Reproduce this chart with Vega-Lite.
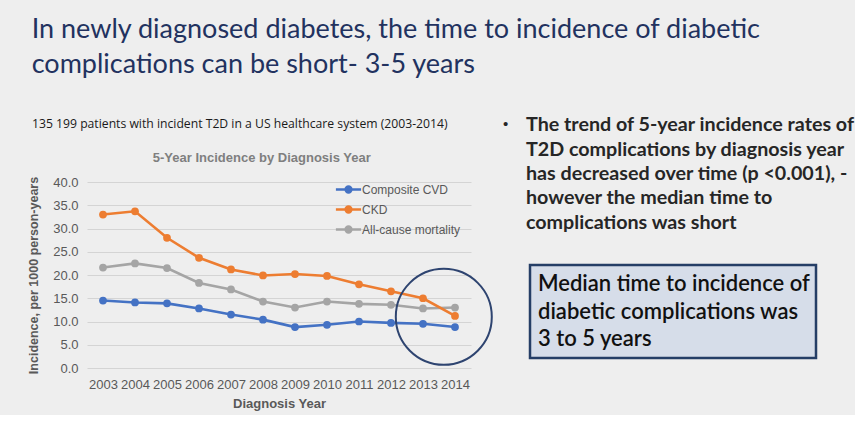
{
  "$schema": "https://vega.github.io/schema/vega-lite/v6.json",
  "background": "#EEEEEE",
  "padding": {"left": 27, "top": 16, "right": 0, "bottom": 5},
  "config": {
    "view": {"stroke": null},
    "font": "Liberation Sans"
  },
  "title": {
    "text": ["In newly diagnosed diabetes, the time to incidence of diabetic", "complications can be short- 3-5 years"],
    "anchor": "start",
    "frame": "bounds",
    "font": "Lato",
    "fontSize": 27,
    "fontWeight": "normal",
    "color": "#22325F",
    "lineHeight": 35,
    "dx": 4,
    "offset": 31
  },
  "datasets": {
    "incidence": [
      {"year": 2003, "series": "Composite CVD", "value": 14.5},
      {"year": 2004, "series": "Composite CVD", "value": 14.1},
      {"year": 2005, "series": "Composite CVD", "value": 13.9},
      {"year": 2006, "series": "Composite CVD", "value": 12.8},
      {"year": 2007, "series": "Composite CVD", "value": 11.5},
      {"year": 2008, "series": "Composite CVD", "value": 10.4},
      {"year": 2009, "series": "Composite CVD", "value": 8.8},
      {"year": 2010, "series": "Composite CVD", "value": 9.3},
      {"year": 2011, "series": "Composite CVD", "value": 10.0},
      {"year": 2012, "series": "Composite CVD", "value": 9.7},
      {"year": 2013, "series": "Composite CVD", "value": 9.5},
      {"year": 2014, "series": "Composite CVD", "value": 8.8},
      {"year": 2003, "series": "All-cause mortality", "value": 21.6},
      {"year": 2004, "series": "All-cause mortality", "value": 22.5},
      {"year": 2005, "series": "All-cause mortality", "value": 21.5},
      {"year": 2006, "series": "All-cause mortality", "value": 18.3},
      {"year": 2007, "series": "All-cause mortality", "value": 16.9},
      {"year": 2008, "series": "All-cause mortality", "value": 14.3},
      {"year": 2009, "series": "All-cause mortality", "value": 13.0},
      {"year": 2010, "series": "All-cause mortality", "value": 14.3},
      {"year": 2011, "series": "All-cause mortality", "value": 13.8},
      {"year": 2012, "series": "All-cause mortality", "value": 13.6},
      {"year": 2013, "series": "All-cause mortality", "value": 12.8},
      {"year": 2014, "series": "All-cause mortality", "value": 13.0},
      {"year": 2003, "series": "CKD", "value": 33.0},
      {"year": 2004, "series": "CKD", "value": 33.7},
      {"year": 2005, "series": "CKD", "value": 28.0},
      {"year": 2006, "series": "CKD", "value": 23.7},
      {"year": 2007, "series": "CKD", "value": 21.2},
      {"year": 2008, "series": "CKD", "value": 19.9},
      {"year": 2009, "series": "CKD", "value": 20.2},
      {"year": 2010, "series": "CKD", "value": 19.8},
      {"year": 2011, "series": "CKD", "value": 18.0},
      {"year": 2012, "series": "CKD", "value": 16.5},
      {"year": 2013, "series": "CKD", "value": 15.0},
      {"year": 2014, "series": "CKD", "value": 11.2}
    ],
    "highlight": [
      {"year": 2013.65, "value": 11.0}
    ],
    "note": [
      {"text": "135 199 patients with incident T2D in a US healthcare system (2003-2014)"}
    ],
    "bullet": [
      {"line": 1, "text": "The trend of 5-year incidence rates of"},
      {"line": 2, "text": "T2D complications by diagnosis year"},
      {"line": 3, "text": "has decreased over time (p <0.001), -"},
      {"line": 4, "text": "however the median time to"},
      {"line": 5, "text": "complications was short"}
    ],
    "bulletMark": [
      {"line": 1, "text": "•"}
    ],
    "box": [
      {"line": 1, "text": "Median time to incidence of"},
      {"line": 2, "text": "diabetic complications was"},
      {"line": 3, "text": "3 to 5 years"}
    ]
  },
  "spacing": 7,
  "hconcat": [
    {
      "spacing": 14,
      "resolve": {"legend": {"color": "independent"}},
      "vconcat": [
        {
          "width": 384,
          "height": 28,
          "data": {"name": "note"},
          "mark": {"type": "text", "align": "left", "baseline": "middle", "dx": -55, "font": "Open Sans", "fontSize": 12.2, "color": "#1A1A1A"},
          "encoding": {
            "x": {"datum": 0, "type": "quantitative", "scale": {"domain": [0, 1]}, "axis": null},
            "text": {"field": "text"}
          }
        },
        {
          "width": 384,
          "height": 186,
          "title": {
            "text": "5-Year Incidence by Diagnosis Year",
            "anchor": "middle",
            "frame": "bounds",
            "font": "Liberation Sans",
            "fontSize": 13,
            "fontWeight": "bold",
            "color": "#7F7F7F",
            "offset": 11
          },
          "layer": [
            {
              "data": {"name": "incidence"},
              "mark": {"type": "line", "strokeWidth": 2.6, "point": {"filled": true, "size": 60}},
              "encoding": {
                "x": {
                  "field": "year",
                  "type": "quantitative",
                  "scale": {"domain": [2002.5, 2014.5], "nice": false, "zero": false},
                  "axis": {
                    "values": [2003, 2004, 2005, 2006, 2007, 2008, 2009, 2010, 2011, 2012, 2013, 2014],
                    "tickCount": 30,
                    "format": "d",
                    "labelOverlap": false,
                    "grid": false,
                    "ticks": false,
                    "domain": false,
                    "labelFontSize": 13,
                    "labelColor": "#595959",
                    "labelPadding": 10,
                    "title": "Diagnosis Year",
                    "titleFontSize": 13,
                    "titleFontWeight": "bold",
                    "titleColor": "#595959",
                    "titlePadding": 6
                  }
                },
                "y": {
                  "field": "value",
                  "type": "quantitative",
                  "scale": {"domain": [0, 40], "nice": false},
                  "axis": {
                    "values": [0, 5, 10, 15, 20, 25, 30, 35, 40],
                    "tickCount": 30,
                    "format": ".1f",
                    "labelOverlap": false,
                    "ticks": false,
                    "domain": false,
                    "gridColor": "#D4D4D4",
                    "gridWidth": 1,
                    "labelFontSize": 13,
                    "labelColor": "#595959",
                    "labelPadding": 9,
                    "title": "Incidence, per 1000 person-years",
                    "titleFontSize": 12.5,
                    "titleFontWeight": "bold",
                    "titleColor": "#595959",
                    "titlePadding": 12
                  }
                },
                "color": {
                  "field": "series",
                  "type": "nominal",
                  "scale": {
                    "domain": ["Composite CVD", "CKD", "All-cause mortality"],
                    "range": ["#4472C4", "#ED7D31", "#A5A5A5"]
                  },
                  "legend": {
                    "title": null,
                    "orient": "none",
                    "legendX": 251,
                    "legendY": -3,
                    "symbolType": "M-1.4,0H1.4M-0.32,0a0.32,0.32 0 1,0 0.64,0a0.32,0.32 0 1,0 -0.64,0",
                    "symbolSize": 324,
                    "symbolStrokeWidth": 2.5,
                    "labelFontSize": 12,
                    "labelColor": "#595959",
                    "labelOffset": 3,
                    "rowPadding": 1
                  }
                }
              }
            },
            {
              "data": {"name": "highlight"},
              "mark": {"type": "point", "shape": "circle", "size": 9216, "filled": false, "stroke": "#2E4470", "strokeWidth": 2, "opacity": 1},
              "encoding": {
                "x": {"field": "year", "type": "quantitative"},
                "y": {"field": "value", "type": "quantitative"}
              }
            }
          ]
        }
      ]
    },
    {
      "spacing": 30,
      "vconcat": [
        {
          "width": 300,
          "height": 122,
          "layer": [
            {
              "data": {"name": "bullet"},
              "mark": {"type": "text", "align": "left", "baseline": "middle", "dx": -4, "dy": 3, "font": "Lato", "fontSize": 19.7, "fontWeight": "bold", "color": "#262626"},
              "encoding": {
                "x": {"datum": 0, "type": "quantitative", "scale": {"domain": [0, 1]}, "axis": null},
                "y": {"field": "line", "type": "ordinal", "scale": {"type": "point", "padding": 0.5, "domain": [1, 2, 3, 4, 5]}, "axis": null},
                "text": {"field": "text"}
              }
            },
            {
              "data": {"name": "bulletMark"},
              "mark": {"type": "text", "align": "left", "baseline": "middle", "dx": -27, "dy": 2, "font": "Liberation Sans", "fontSize": 15, "color": "#262626"},
              "encoding": {
                "x": {"datum": 0, "type": "quantitative", "scale": {"domain": [0, 1]}, "axis": null},
                "y": {"field": "line", "type": "ordinal", "axis": null},
                "text": {"field": "text"}
              }
            }
          ]
        },
        {
          "width": 286,
          "height": 93,
          "view": {"fill": "#D6DDE9", "stroke": "#253E66", "strokeWidth": 2.5},
          "data": {"name": "box"},
          "mark": {"type": "text", "align": "left", "baseline": "middle", "dx": 8, "dy": 0, "font": "Lato", "fontSize": 22, "fontWeight": 600, "color": "#111111"},
          "encoding": {
            "x": {"datum": 0, "type": "quantitative", "scale": {"domain": [0, 1]}, "axis": null},
            "y": {"field": "line", "type": "ordinal", "scale": {"type": "point", "padding": 0.68}, "axis": null},
            "text": {"field": "text"}
          }
        }
      ]
    }
  ]
}
